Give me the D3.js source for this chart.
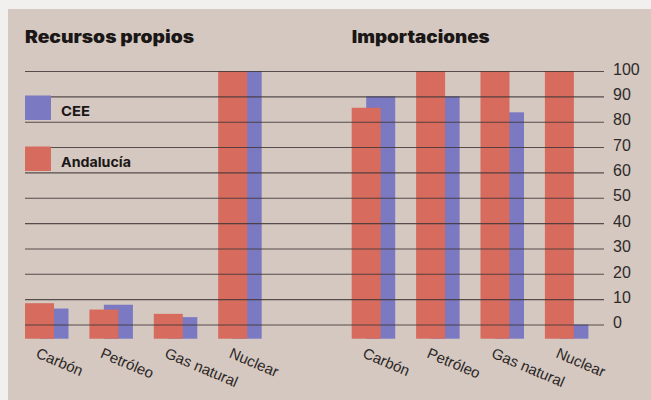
<!DOCTYPE html>
<html>
<head>
<meta charset="utf-8">
<script src="https://cdn.jsdelivr.net/npm/d3@7/dist/d3.min.js"></script>
<style>
  html, body { margin: 0; padding: 0; background: #f2f0ee; }
  svg { display: block; }
</style>
</head>
<body>
<svg id="chart" width="651" height="400"></svg>
<script>
// Energy sources (percent), two panels: own resources and imports
const categories = ["Carbón", "Petróleo", "Gas natural", "Nuclear"];
const seriesNames = ["CEE", "Andalucía"];
const propiosCEE = [6.3, 7.8, 2.9, 100];
const propiosAndalucia = [8.4, 5.9, 4.2, 100];
const importCEE = [90, 90, 83.7, 0];
const importAndalucia = [85.5, 100, 100, 100];
const tickValues = [0, 10, 20, 30, 40, 50, 60, 70, 80, 90, 100];
const panelTitles = ["Recursos propios", "Importaciones"];

const colors = { "CEE": "#7b79c2", "Andalucía": "#d66b5e" };
const paper = "#d4c8c0";
const ink = "#2b2626";
const gridColor = "#3f3636";

const svg = d3.select("#chart");

// paper background
svg.append("rect").attr("x", 8).attr("y", 9).attr("width", 643).attr("height", 391).attr("fill", paper);

// bars start a little below the zero line
const barBase = -5.6;
const y = d3.scaleLinear().domain([0, 100]).range([324.5, 71]);

const panels = [
  { title: panelTitles[0], x0: 25, cee: propiosCEE, and: propiosAndalucia, titleW: 169 },
  { title: panelTitles[1], x0: 351.7, cee: importCEE, and: importAndalucia, titleW: 138 }
];

const step = 64.4;
const barW = 29;
const offset = 14.5;

panels.forEach(p => {
  const unionW = barW + offset;
  const x = d3.scaleBand()
    .domain(categories)
    .range([p.x0, p.x0 + step * 3 + unionW])
    .paddingInner((step - unionW) / step)
    .paddingOuter(0);

  const g = svg.append("g");
  // CEE bars sit behind the Andalucía bars
  g.selectAll("rect.cee").data(categories).join("rect")
    .attr("class", "cee")
    .attr("x", d => x(d) + offset)
    .attr("width", barW)
    .attr("y", (d, i) => y(p.cee[i]))
    .attr("height", (d, i) => y(barBase) - y(p.cee[i]))
    .attr("fill", colors["CEE"]);
  g.selectAll("rect.and").data(categories).join("rect")
    .attr("class", "and")
    .attr("x", d => x(d))
    .attr("width", barW)
    .attr("y", (d, i) => y(p.and[i]))
    .attr("height", (d, i) => y(barBase) - y(p.and[i]))
    .attr("fill", colors["Andalucía"]);

  // category labels, slanted
  g.selectAll("text.cat").data(categories).join("text")
    .attr("class", "cat")
    .attr("transform", d => `translate(${x(d) + 10},${357}) rotate(23)`)
    .attr("font-family", "Liberation Sans, Arial, sans-serif")
    .attr("font-size", 15)
    .attr("fill", ink)
    .text(d => d);

  // panel title
  svg.append("text")
    .attr("x", p.x0)
    .attr("y", 43)
    .attr("font-family", "Inter, Liberation Sans, Arial, sans-serif")
    .attr("font-weight", 900)
    .attr("font-size", 17)
    .attr("textLength", p.titleW)
    .attr("lengthAdjust", "spacingAndGlyphs")
    .attr("fill", "#1b1717")
    .text(p.title);
});

// horizontal rules drawn across both panels, over the bars
const axis = d3.axisRight(y)
  .tickValues(tickValues)
  .tickSize(-(604 - 25))
  .tickPadding(9)
  .tickFormat(d3.format("d"));

const ag = svg.append("g")
  .attr("transform", "translate(604,0)")
  .call(axis);
ag.select(".domain").remove();
ag.selectAll("line")
  .attr("stroke", gridColor)
  .attr("stroke-width", 1.1)
  .attr("stroke-opacity", 0.85);
ag.selectAll("text")
  .attr("font-family", "Liberation Sans, Arial, sans-serif")
  .attr("font-size", 16)
  .attr("fill", "#2f2a2a")
  .attr("dy", "0.2em");

// legend
const legend = svg.append("g");
const legendItems = [
  { name: seriesNames[0], y0: 95.5, y1: 120, w: 29 },
  { name: seriesNames[1], y0: 146.5, y1: 171, w: 70 }
];
legendItems.forEach(it => {
  legend.append("rect")
    .attr("x", 25).attr("y", it.y0)
    .attr("width", 26).attr("height", it.y1 - it.y0)
    .attr("fill", colors[it.name]);
  legend.append("text")
    .attr("x", 61).attr("y", it.y1 - 4.5)
    .attr("font-family", "Inter, Liberation Sans, Arial, sans-serif")
    .attr("font-weight", 700)
    .attr("font-size", 13.5)
    .attr("textLength", it.w)
    .attr("lengthAdjust", "spacingAndGlyphs")
    .attr("fill", "#1b1717")
    .text(it.name);
});
</script>
</body>
</html>
